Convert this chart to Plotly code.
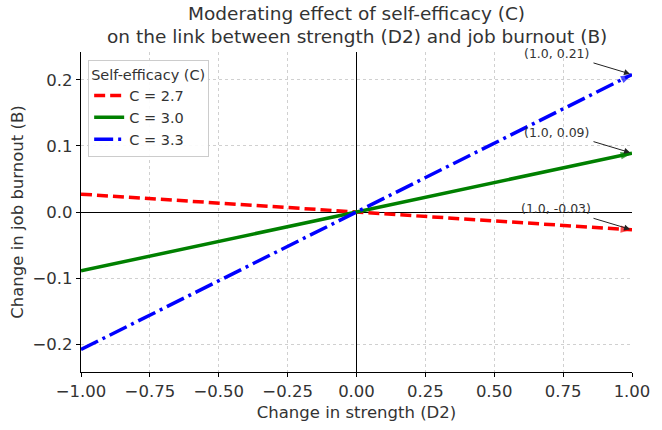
import plotly.graph_objects as go

# Data
x_vals = [-1.0, 1.0]
c_labels = ["C = 2.7", "C = 3.0", "C = 3.3"]
y_c27 = [0.027, -0.027]
y_c30 = [-0.089, 0.089]
y_c33 = [-0.208, 0.208]
x_ticks = [-1.0, -0.75, -0.5, -0.25, 0.0, 0.25, 0.5, 0.75, 1.0]
y_ticks = [-0.2, -0.1, 0.0, 0.1, 0.2]
title_lines = ["Moderating effect of self-efficacy (C)",
               "on the link between strength (D2) and job burnout (B)"]

series = [
    (c_labels[0], y_c27, "#ff0000", "11px,5px"),
    (c_labels[1], y_c30, "#008000", "solid"),
    (c_labels[2], y_c33, "#0000ff", "19px,5px,3px,5px"),
]

FONT = "DejaVu Sans"
TXT = "#333333"
fig = go.Figure()

for name, ys, col, dash in series:
    fig.add_trace(go.Scatter(
        x=x_vals, y=ys, mode="lines", name=name,
        line=dict(color=col, width=3.5, dash=dash),
    ))
for name, ys, col, dash in series:
    fig.add_trace(go.Scatter(
        x=[x_vals[-2], x_vals[-1]], y=[ys[-2], ys[-1]], mode="markers",
        showlegend=False, hoverinfo="skip",
        marker=dict(symbol="arrow", angleref="previous", size=[0, 12],
                    color=col, line=dict(width=0)),
    ))

for name, ys, col, dash in series:
    xe, ye = x_vals[-1], ys[-1]
    fig.add_annotation(x=xe, y=ye, xref="x", yref="y",
                       text=f"({xe:.1f}, {ye:.2f})", showarrow=False,
                       xshift=-76, yshift=21,
                       font=dict(family=FONT, size=12.5, color=TXT))
    fig.add_annotation(x=xe, y=ye, xref="x", yref="y", text="",
                       showarrow=True, ax=-40, ay=-12, arrowhead=2,
                       arrowsize=1.2, arrowwidth=1, arrowcolor="#222222",
                       standoff=2)

# Title lines (paper coords above the plot area)
fig.add_annotation(x=0.5, y=1.119, xref="paper", yref="paper", text=title_lines[0],
                   showarrow=False, font=dict(family=FONT, size=18.5, color=TXT),
                   yanchor="middle", xanchor="center")
fig.add_annotation(x=0.5, y=1.049, xref="paper", yref="paper", text=title_lines[1],
                   showarrow=False, font=dict(family=FONT, size=18.5, color=TXT),
                   yanchor="middle", xanchor="center")

fig.update_layout(
    width=662, height=430,
    margin=dict(l=81, r=27, t=52, b=50),
    paper_bgcolor="white", plot_bgcolor="white",
    font=dict(family=FONT, color=TXT, size=15),
    legend=dict(x=0.013, y=0.976, xanchor="left", yanchor="top",
                bgcolor="rgba(255,255,255,0.9)", bordercolor="#cccccc",
                borderwidth=1, font=dict(family=FONT, size=14.5, color=TXT),
                title=dict(text="Self-efficacy (C)", font=dict(family=FONT, size=14.5, color=TXT)),
                tracegroupgap=0),
    showlegend=True,
)
fig.update_xaxes(
    range=[-1, 1], tickvals=x_ticks, tickformat=".2f",
    showgrid=True, gridcolor="#d0d0d0", griddash="dot", gridwidth=1,
    zeroline=True, zerolinecolor="black", zerolinewidth=1.2,
    showline=True, linecolor="black", linewidth=1.2, mirror=False,
    ticks="outside", ticklen=4, tickcolor="black",
    title=dict(text="Change in strength (D2)", font=dict(family=FONT, size=16.5, color=TXT), standoff=6),
    tickfont=dict(family=FONT, size=16.5, color=TXT),
)
fig.update_yaxes(
    range=[-0.242, 0.242], tickvals=y_ticks, tickformat=".1f",
    showgrid=True, gridcolor="#d0d0d0", griddash="dot", gridwidth=1,
    zeroline=True, zerolinecolor="black", zerolinewidth=1.2,
    showline=True, linecolor="black", linewidth=1.2, mirror=False,
    ticks="outside", ticklen=4, tickcolor="black",
    title=dict(text="Change in job burnout (B)", font=dict(family=FONT, size=16.5, color=TXT), standoff=4),
    tickfont=dict(family=FONT, size=16.5, color=TXT),
)

fig.write_html("out.html")
